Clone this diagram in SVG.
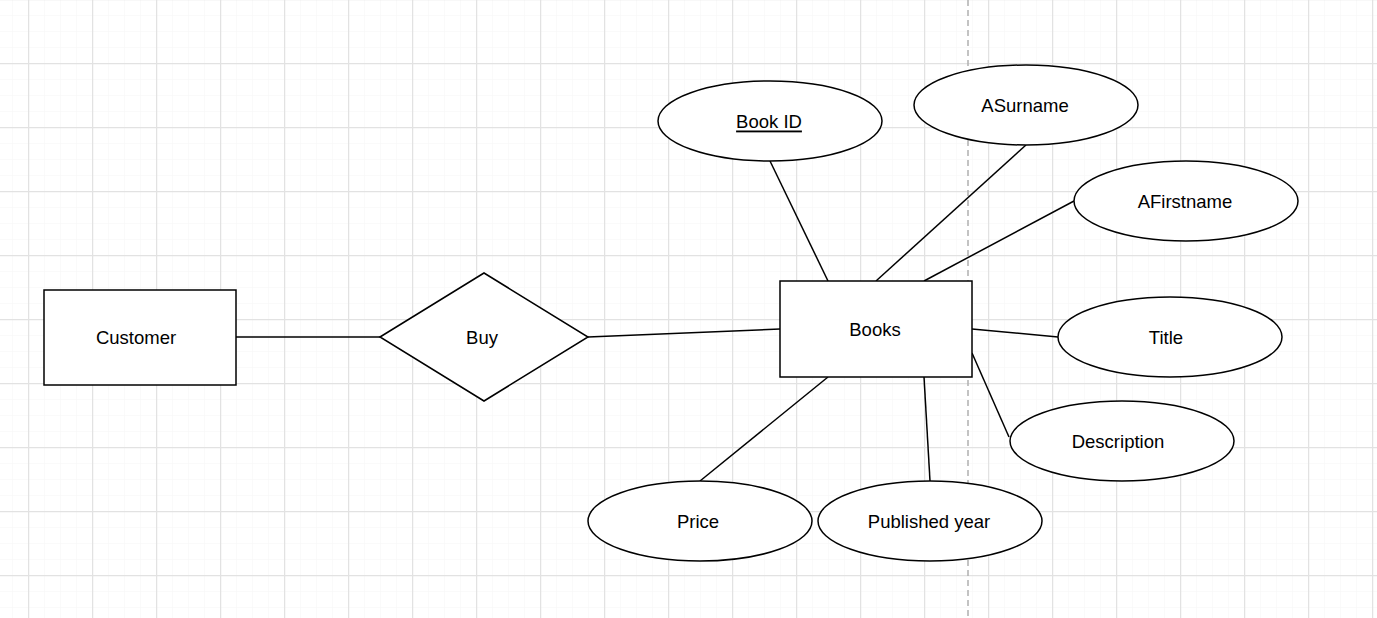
<svg xmlns="http://www.w3.org/2000/svg" width="1377" height="618" viewBox="0 0 1377 618">
<defs>
<pattern id="minor" x="12" y="15" width="16" height="16" patternUnits="userSpaceOnUse">
<path d="M0 0H16M0 0V16" fill="none" stroke="#f5f5f5" stroke-width="1"/>
</pattern>
<pattern id="major" x="28" y="63" width="64" height="64" patternUnits="userSpaceOnUse">
<path d="M0 0.5H64M0.5 0V64" fill="none" stroke="#e2e2e2" stroke-width="1.5"/>
</pattern>
</defs>
<style>
.s{fill:#fff;stroke:#000;stroke-width:1.5}
.c{stroke:#000;stroke-width:1.5;fill:none}
text{font-family:"Liberation Sans",Arial,sans-serif;font-size:18.5px;fill:#000;text-anchor:middle;dominant-baseline:central}
</style>
<rect width="1377" height="618" fill="#fff"/>
<rect width="1377" height="618" fill="url(#minor)"/>
<rect width="1377" height="618" fill="url(#major)"/>
<line x1="968" y1="0" x2="968" y2="618" stroke="#b0b0b0" stroke-width="1.5" stroke-dasharray="6,4"/>
<g id="connectors">
<line class="c" x1="236" y1="337" x2="380" y2="337"/>
<line class="c" x1="588" y1="337" x2="780" y2="329"/>
<line class="c" x1="770" y1="161" x2="828" y2="281"/>
<line class="c" x1="1026" y1="145" x2="876" y2="281"/>
<line class="c" x1="1074" y1="201" x2="924" y2="281"/>
<line class="c" x1="972" y1="329" x2="1058" y2="337"/>
<line class="c" x1="972" y1="353" x2="1009" y2="437"/>
<line class="c" x1="828" y1="377" x2="700" y2="481"/>
<line class="c" x1="924" y1="377" x2="930" y2="481"/>
</g>
<g id="customer"><rect class="s" x="44" y="290" width="192" height="95"/><text x="136" y="337">Customer</text></g>
<g id="buy"><polygon class="s" points="380,337 484,273 588,337 484,401"/><text x="482" y="337">Buy</text></g>
<g id="books"><rect class="s" x="780" y="281" width="192" height="96"/><text x="875" y="329">Books</text></g>
<g id="bookid"><ellipse class="s" cx="770" cy="121" rx="112" ry="40"/><text x="769" y="121" text-decoration="underline">Book ID</text></g>
<g id="asurname"><ellipse class="s" cx="1026" cy="105" rx="112" ry="40"/><text x="1025" y="105">ASurname</text></g>
<g id="afirstname"><ellipse class="s" cx="1186" cy="201" rx="112" ry="40"/><text x="1185" y="201">AFirstname</text></g>
<g id="title"><ellipse class="s" cx="1170" cy="337" rx="112" ry="40"/><text x="1166" y="337">Title</text></g>
<g id="description"><ellipse class="s" cx="1122" cy="441" rx="112" ry="40"/><text x="1118" y="441">Description</text></g>
<g id="price"><ellipse class="s" cx="700" cy="521" rx="112" ry="40"/><text x="698" y="521">Price</text></g>
<g id="published"><ellipse class="s" cx="930" cy="521" rx="112" ry="40"/><text x="929" y="521">Published year</text></g>
</svg>
